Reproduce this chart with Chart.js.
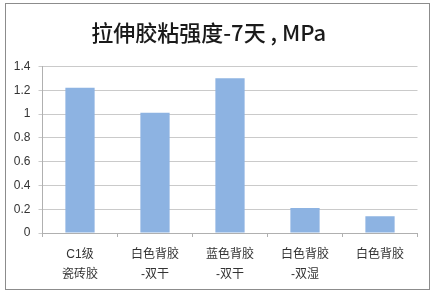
<!DOCTYPE html>
<html>
<head>
<meta charset="utf-8">
<script src="https://cdn.jsdelivr.net/npm/chart.js@4"></script>
<style>
  html, body { margin: 0; padding: 0; background: #fff; }
  #wrap { position: absolute; left: 0; top: 0; width: 433px; height: 294px; }
</style>
</head>
<body>
<div id="wrap"><canvas id="bars" width="433" height="294"></canvas></div>
<script>
const categories = [
    ['C1级', '瓷砖胶'],
    ['白色背胶', '-双干'],
    ['蓝色背胶', '-双干'],
    ['白色背胶', '-双湿'],
    ['白色背胶', '']
];
const strength7d = [1.22, 1.01, 1.30, 0.21, 0.14];
const yTicks = [0, 0.2, 0.4, 0.6, 0.8, 1, 1.2, 1.4];

const fontFamily = '"Liberation Sans", "Noto Sans CJK SC", sans-serif';

// grey frame round the whole picture
const framePlugin = {
    id: 'frame',
    beforeDraw(chart) {
        const ctx = chart.ctx;
        ctx.save();
        ctx.fillStyle = '#fff';
        ctx.fillRect(0, 0, chart.width, chart.height);
        ctx.strokeStyle = '#8c8c8c';
        ctx.lineWidth = 1;
        ctx.strokeRect(5.5, 3.5, 424, 286);
        ctx.restore();
    }
};

const barsEl = document.getElementById('bars');

const bars = new Chart(barsEl, {
    type: 'bar',
    data: {
        labels: categories,
        datasets: [{
            data: strength7d,
            backgroundColor: '#8db3e2',
            borderWidth: 0,
            barPercentage: 0.39,
            categoryPercentage: 1
        }]
    },
    options: {
        responsive: false,
        animation: false,
        layout: { padding: { left: 0, right: 15.5, top: 0, bottom: 0 } },
        plugins: {
            legend: { display: false },
            tooltip: { enabled: false },
            title: {
                display: true,
                text: '拉伸胶粘强度-7天 , MPa',
                color: '#1a1a1a',
                font: { family: '"Noto Sans CJK SC", sans-serif', size: 22, weight: 500, lineHeight: 1.2 },
                padding: { top: 19, bottom: 21 }
            }
        },
        scales: {
            x: {
                grid: {
                    drawOnChartArea: false,
                    drawTicks: true,
                    tickLength: 4,
                    color: '#b0b0b0'
                },
                border: { color: '#b0b0b0' },
                ticks: {
                    color: '#333',
                    padding: 8,
                    maxRotation: 0,
                    font: { family: fontFamily, size: 12, lineHeight: 1.65 }
                },
                afterFit(scale) { scale.height = 61; }
            },
            y: {
                min: 0,
                max: 1.4,
                afterBuildTicks(scale) {
                    scale.ticks = yTicks.map(v => ({ value: v }));
                },
                grid: { color: '#cacaca', tickLength: 4 },
                border: { color: '#b0b0b0' },
                ticks: {
                    color: '#333',
                    padding: 8,
                    font: { family: fontFamily, size: 12 },
                    callback: v => String(Math.round(v * 10) / 10)
                },
                afterFit(scale) { scale.width = 42.5; }
            }
        }
    },
    plugins: [framePlugin]
});
</script>
</body>
</html>
